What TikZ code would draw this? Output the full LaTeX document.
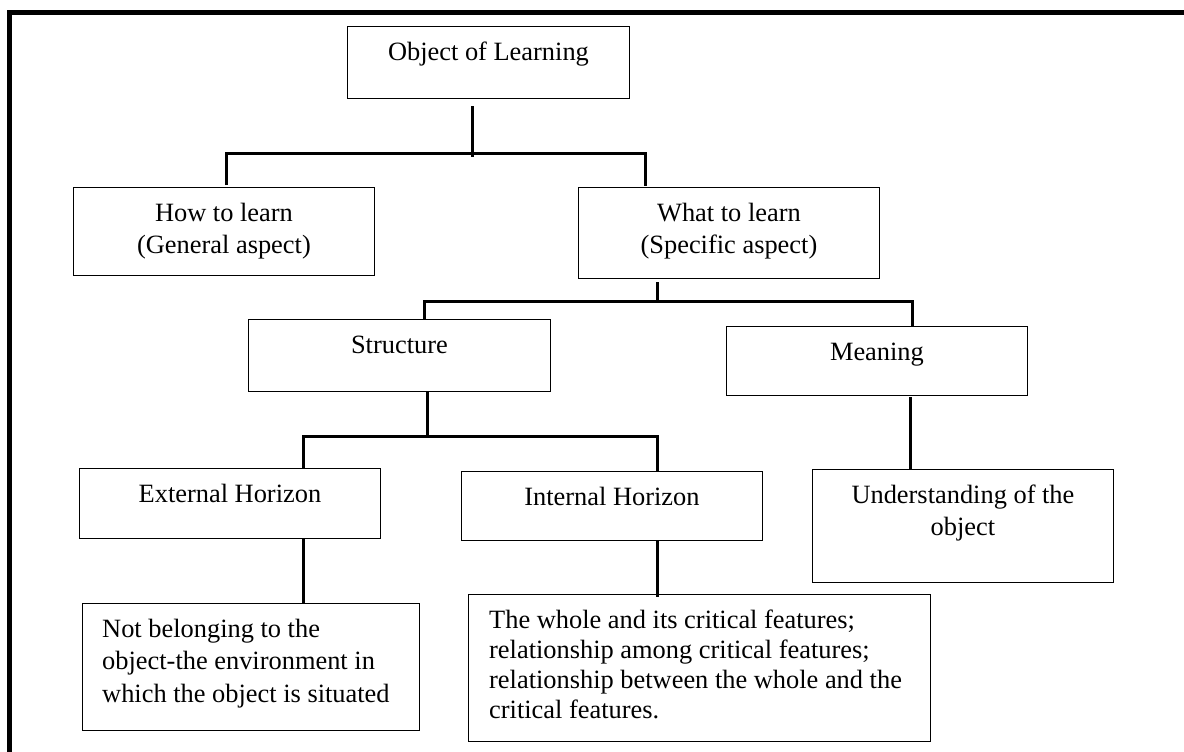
\documentclass[tikz,border=0pt]{standalone}
\usepackage{fontspec}
\setmainfont{Liberation Serif}
\usetikzlibrary{calc}
\begin{document}
\begin{tikzpicture}[x=1pt,y=-1pt,
  box/.style={draw, line width=0.9pt, inner sep=0, anchor=north west},
  conn/.style={line width=3pt},
  frameline/.style={line width=5pt, line join=miter},
  lbl/.style={font=\fontsize{26.4}{32.5}\selectfont, inner sep=0, anchor=north, align=center},
  lbll/.style={font=\fontsize{26.4}{32.5}\selectfont, inner sep=0, anchor=north west, align=left},
  lblw/.style={font=\fontsize{26.4}{30}\selectfont, inner sep=0, anchor=north west, align=left}]
\useasboundingbox (0,0) rectangle (1184,752);

% open frame: top and left edges only
\coordinate (fc) at (9.8,12.5);
\draw[frameline] (9.8,752) -- (fc) -- (1184,12.5);

% boxes
\node[box, minimum width=282, minimum height=72] (obj)    at (347,26)  {};
\node[box, minimum width=301, minimum height=88] (how)    at (73,187)  {};
\node[box, minimum width=301, minimum height=91] (what)   at (578,187) {};
\node[box, minimum width=302, minimum height=72] (struct) at (248,319) {};
\node[box, minimum width=301, minimum height=69] (mean)   at (726,326) {};
\node[box, minimum width=301, minimum height=70] (ext)    at (79,468)  {};
\node[box, minimum width=301, minimum height=69] (int)    at (461,471) {};
\node[box, minimum width=301, minimum height=113] (und)   at (812,469) {};
\node[box, minimum width=337, minimum height=127] (notb)  at (82,603)  {};
\node[box, minimum width=462, minimum height=147] (whole) at (468,594) {};

% labels
\node[lbl] (objt)    at ($(obj.north)+(0,11.25)$)    {\strut Object of Learning};
\node[lbl] (howt)    at ($(how.north)+(0,11.25)$)    {\strut How to learn\\(General aspect)};
\node[lbl] (whatt)   at ($(what.north)+(0,11.25)$)   {\strut What to learn\\(Specific aspect)};
\node[lbl] (structt) at ($(struct.north)+(0,11.25)$) {\strut Structure};
\node[lbl] (meant)   at ($(mean.north)+(0,11.25)$)   {\strut Meaning};
\node[lbl] (extt)    at ($(ext.north)+(0,11.25)$)    {\strut External Horizon};
\node[lbl] (intt)    at ($(int.north)+(0,11.25)$)    {\strut Internal Horizon};
\node[lbl] (undt)    at ($(und.north)+(0,11.25)$)    {\strut Understanding of the\\object};
\node[lbll] (notbt)  at ($(notb.north west)+(20,11.25)$)
  {\strut Not belonging to the\\object-the environment in\\which the object is situated};
\node[lblw] (wholet) at ($(whole.north west)+(21,13)$)
  {\strut The whole and its critical features;\\relationship among critical features;\\relationship between the whole and the\\critical features.};

% first level
\coordinate (s1t) at (472,106);
\coordinate (s1b) at (472,157);
\coordinate (b1l) at (226,153);
\coordinate (b1r) at (645,153);
\draw[conn] (s1t) -- (s1b);
\draw[conn] ($(b1l |- how.north)+(0,-2)$) -- (b1l) -- (b1r) -- ($(b1r |- what.north)+(0,-1)$);

% second level
\coordinate (b2s) at (657,282);
\coordinate (b2l) at (424,301);
\coordinate (b2r) at (912,301);
\draw[conn] (b2s) -- (b2s |- b2l);
\draw[conn] (b2l |- struct.north) -- (b2l) -- (b2r) -- (b2r |- mean.north);

% third level
\coordinate (b3s) at (427,392);
\coordinate (b3l) at (303,436);
\coordinate (b3r) at (657,436);
\draw[conn] (b3s) -- (b3s |- b3l);
\draw[conn] (b3l |- ext.north) -- (b3l) -- (b3r) -- (b3r |- int.north);

% leaves
\coordinate (e1) at (303,538);
\draw[conn] (e1) -- (e1 |- notb.north);
\coordinate (i1) at (657,540);
\draw[conn] (i1) -- ($(i1 |- whole.north)+(0,3)$);
\coordinate (m1) at (910,397);
\draw[conn] (m1) -- (m1 |- und.north);
\end{tikzpicture}
\end{document}
